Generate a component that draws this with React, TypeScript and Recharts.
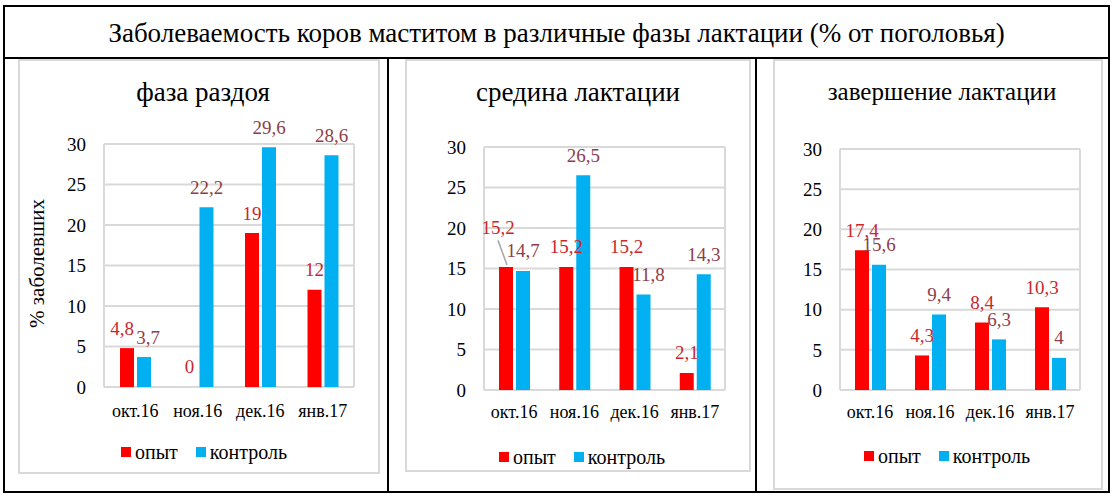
import { BarChart, Bar, XAxis, YAxis, CartesianGrid, LabelList } from "recharts";

const months = ["окт.16", "ноя.16", "дек.16", "янв.17"];
const seriesNames = ["опыт", "контроль"];
const yTicks = [0, 5, 10, 15, 20, 25, 30];

const razdoyOpyt = [4.8, 0, 19, 12];
const razdoyKontrol = [3.7, 22.2, 29.6, 28.6];
const seredinaOpyt = [15.2, 15.2, 15.2, 2.1];
const seredinaKontrol = [14.7, 26.5, 11.8, 14.3];
const zavershOpyt = [17.4, 4.3, 8.4, 10.3];
const zavershKontrol = [15.6, 9.4, 6.3, 4];

const mainTitle = "Заболеваемость коров маститом в различные фазы лактации (% от поголовья)";

const RED = "#FF0000";
const BLUE = "#00B0F0";
const RED_LABEL = "#C8282D";
const BLUE_LABEL = "#8E3E48";
const GRID = "#D9D9D9";
const AXIS = "#BFBFBF";
const FONT = '"Liberation Serif", serif';

type Nudge = { dx?: number; dy?: number; leader?: boolean };
type Rect = { x: number; y: number; w: number; h: number };

const fmt = (v: any) => String(v).replace(".", ",");

function makeLabel(color: string, nudges: Record<number, Nudge>) {
  return (props: any) => {
    const { x, y, width, value, index } = props;
    const n = nudges[index] || {};
    const cx = Number(x) + Number(width) / 2;
    const top = Number(y);
    const lx = cx + (n.dx || 0);
    const base = top - 13.5 + (n.dy || 0);
    return (
      <g>
        {n.leader && (
          <line x1={lx} y1={base + 6} x2={cx + 1} y2={top - 2} stroke="#A6A6A6" strokeWidth={1.5} />
        )}
        <text x={lx} y={base} textAnchor="middle" fill={color} fontSize={19} fontFamily={FONT}>
          {fmt(value)}
        </text>
      </g>
    );
  };
}

type PanelProps = {
  title: string;
  titleSize: number;
  titleX: number;
  frame: Rect;
  plot: { left: number; top: number; right: number; bottom: number };
  opyt: number[];
  kontrol: number[];
  xTickMargin: number;
  legendX: number;
  legendY: number;
  yLabel?: string;
  nudgesOpyt?: Record<number, Nudge>;
  nudgesKontrol?: Record<number, Nudge>;
};

function Panel(p: PanelProps) {
  const data = months.map((m, i) => ({ month: m, opyt: p.opyt[i], kontrol: p.kontrol[i] }));
  const edgeTicks = months.map((_, i) => i).concat(months.length);
  const yAxisWidth = 40;
  const catHeight = 30;
  const margin = {
    top: p.plot.top - p.frame.y,
    right: p.frame.x + p.frame.w - p.plot.right,
    bottom: p.frame.y + p.frame.h - p.plot.bottom - catHeight,
    left: p.plot.left - p.frame.x - yAxisWidth,
  };
  return (
    <>
      <div
        style={{
          position: "absolute",
          left: p.frame.x,
          top: p.frame.y,
          width: p.frame.w,
          height: p.frame.h,
          border: `2px solid ${GRID}`,
          boxSizing: "border-box",
        }}
      />
      <div
        style={{
          position: "absolute",
          left: p.titleX - 170,
          width: 340,
          top: 76,
          height: 32,
          lineHeight: "32px",
          textAlign: "center",
          fontSize: p.titleSize,
          color: "#000",
        }}
      >
        {p.title}
      </div>
      <div style={{ position: "absolute", left: p.frame.x, top: p.frame.y }}>
        <BarChart width={p.frame.w} height={p.frame.h} data={data} margin={margin} barSize={14} barGap={3}>
          <CartesianGrid xAxisId="edges" stroke={GRID} strokeWidth={2} />
          <XAxis
            xAxisId="edges"
            type="number"
            domain={[0, months.length]}
            ticks={edgeTicks}
            tick={false}
            tickSize={6}
            height={0}
            allowDataOverflow
            axisLine={{ stroke: AXIS, strokeWidth: 2 }}
            tickLine={{ stroke: AXIS, strokeWidth: 2 }}
          />
          <XAxis
            xAxisId="cat"
            dataKey="month"
            height={catHeight}
            interval={0}
            axisLine={false}
            tickLine={false}
            tickSize={0}
            tickMargin={p.xTickMargin}
            tick={{ fontSize: 18, fill: "#000", fontFamily: FONT }}
          />
          <YAxis
            domain={[0, 30]}
            ticks={yTicks}
            width={yAxisWidth}
            axisLine={false}
            tickLine={false}
            tickSize={0}
            tickMargin={18}
            tick={{ fontSize: 19, fill: "#000", fontFamily: FONT }}
            label={
              p.yLabel
                ? {
                    content: (lp: any) => {
                      const vb = lp.viewBox || {};
                      const lx = vb.x + vb.width - 67;
                      const ly = vb.y + vb.height / 2 - 2;
                      return (
                        <text
                          x={lx}
                          y={ly}
                          transform={`rotate(-90 ${lx} ${ly})`}
                          textAnchor="middle"
                          dominantBaseline="central"
                          fontSize={21}
                          fontFamily={FONT}
                          fill="#000"
                        >
                          {p.yLabel}
                        </text>
                      );
                    },
                  }
                : undefined
            }
          />
          <Bar
            xAxisId="cat"
            dataKey="opyt"
            name={seriesNames[0]}
            fill={RED}
            minPointSize={0.01}
            isAnimationActive={false}
          >
            <LabelList dataKey="opyt" content={makeLabel(RED_LABEL, p.nudgesOpyt || {})} />
          </Bar>
          <Bar
            xAxisId="cat"
            dataKey="kontrol"
            name={seriesNames[1]}
            fill={BLUE}
            minPointSize={0.01}
            isAnimationActive={false}
          >
            <LabelList dataKey="kontrol" content={makeLabel(BLUE_LABEL, p.nudgesKontrol || {})} />
          </Bar>
        </BarChart>
      </div>
      <div
        style={{
          position: "absolute",
          left: p.legendX - 130,
          width: 260,
          top: p.legendY - 12,
          height: 24,
          display: "flex",
          justifyContent: "center",
          alignItems: "center",
          fontSize: 20,
          gap: 18,
        }}
      >
        {seriesNames.map((s, i) => (
          <span key={s} style={{ display: "flex", alignItems: "center", gap: 4 }}>
            <span style={{ width: 10, height: 10, background: i === 0 ? RED : BLUE, display: "inline-block" }} />
            {s}
          </span>
        ))}
      </div>
    </>
  );
}

export default function App() {
  return (
    <div
      style={{
        position: "absolute",
        left: 0,
        top: 0,
        width: 1118,
        height: 502,
        background: "#fff",
        fontFamily: FONT,
        color: "#000",
        overflow: "hidden",
      }}
    >
      <div
        style={{
          position: "absolute",
          left: 3,
          top: 5,
          width: 1107,
          height: 488,
          border: "2px solid #000",
          boxSizing: "border-box",
        }}
      />
      <div style={{ position: "absolute", left: 3, top: 57, width: 1107, height: 2, background: "#000" }} />
      <div style={{ position: "absolute", left: 387, top: 57, width: 2, height: 436, background: "#000" }} />
      <div style={{ position: "absolute", left: 755, top: 57, width: 2, height: 436, background: "#000" }} />
      <div
        style={{
          position: "absolute",
          left: 3,
          width: 1107,
          top: 16,
          height: 34,
          lineHeight: "34px",
          textAlign: "center",
          fontSize: 27,
        }}
      >
        {mainTitle}
      </div>

      <Panel
        title="фаза раздоя"
        titleSize={27}
        titleX={203}
        frame={{ x: 18, y: 59, w: 362, h: 415 }}
        plot={{ left: 104, top: 144, right: 354, bottom: 387 }}
        opyt={razdoyOpyt}
        kontrol={razdoyKontrol}
        xTickMargin={17}
        legendX={204}
        legendY={452}
        yLabel="% заболевших"
        nudgesOpyt={{ 0: { dx: -5 } }}
        nudgesKontrol={{ 0: { dx: 4 } }}
      />
      <Panel
        title="средина лактации"
        titleSize={27}
        titleX={578}
        frame={{ x: 405, y: 59, w: 346, h: 413 }}
        plot={{ left: 484, top: 147, right: 725, bottom: 390 }}
        opyt={seredinaOpyt}
        kontrol={seredinaKontrol}
        xTickMargin={15}
        legendX={582}
        legendY={457}
        nudgesOpyt={{ 0: { dx: -8, dy: -19, leader: true } }}
        nudgesKontrol={{ 2: { dx: 5 } }}
      />
      <Panel
        title="завершение лактации"
        titleSize={25}
        titleX={942}
        frame={{ x: 773, y: 59, w: 330, h: 431 }}
        plot={{ left: 840, top: 149, right: 1080, bottom: 390 }}
        opyt={zavershOpyt}
        kontrol={zavershKontrol}
        xTickMargin={15}
        legendX={947}
        legendY={456}
      />
    </div>
  );
}
